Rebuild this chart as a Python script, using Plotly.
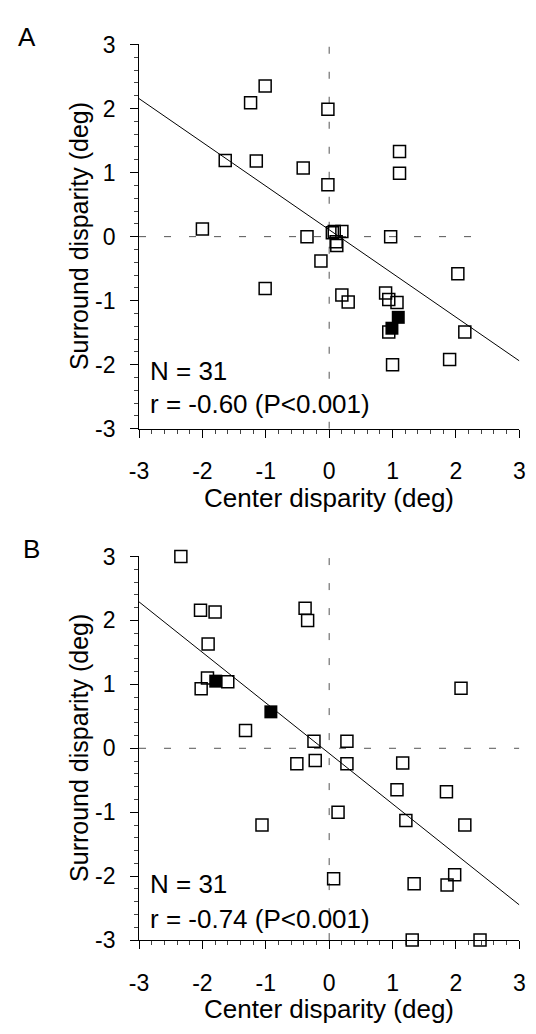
import plotly.graph_objects as go

# ---------------- data ----------------
# Panel A: open squares
a_open_x = [-1.01, -1.24, -0.02, -1.64, -1.15, -0.41, 1.11, 1.11, -0.02, -2.00,
            -0.35, 0.05, 0.08, 0.20, 0.11, 0.12, 0.97, -0.13, 2.03, -1.01,
            0.20, 0.30, 0.89, 0.94, 1.07, 0.94, 2.14, 1.00, 1.90]
a_open_y = [2.35, 2.09, 1.99, 1.19, 1.18, 1.07, 1.33, 0.99, 0.81, 0.12,
            0.00, 0.06, 0.08, 0.08, -0.08, -0.14, 0.00, -0.38, -0.58, -0.81,
            -0.91, -1.02, -0.88, -0.98, -1.03, -1.49, -1.49, -2.00, -1.92]
# Panel A: filled squares
a_fill_x = [1.09, 0.99]
a_fill_y = [-1.26, -1.43]
# Panel A regression line endpoints
a_fit_x = [-3, 3]
a_fit_y = [2.155, -1.94]

# Panel B: open squares
b_open_x = [-2.34, -2.03, -1.80, -0.38, -0.34, -1.91, -1.92, -2.02, -1.60, -1.32,
            -0.24, 0.28, -0.51, -0.22, 0.28, 1.16, 2.08, 1.07, 1.85, 0.14,
            -1.06, 1.21, 2.14, 0.07, 1.34, 1.86, 1.98, 1.31, 2.38]
b_open_y = [3.00, 2.16, 2.13, 2.19, 2.00, 1.63, 1.10, 0.93, 1.04, 0.28,
            0.11, 0.11, -0.24, -0.19, -0.24, -0.23, 0.94, -0.65, -0.68, -1.00,
            -1.20, -1.13, -1.20, -2.04, -2.12, -2.14, -1.98, -3.00, -3.00]
# Panel B: filled squares
b_fill_x = [-1.79, -0.92]
b_fill_y = [1.05, 0.57]
# Panel B regression line endpoints
b_fit_x = [-3, 3]
b_fit_y = [2.29, -2.45]

tick_vals = [-3, -2, -1, 0, 1, 2, 3]
tick_text = ["-3", "-2", "-1", "0", "1", "2", "3"]
stats_A = ["N = 31", "r = -0.60 (P<0.001)"]
stats_B = ["N = 31", "r = -0.74 (P<0.001)"]
x_title = "Center disparity (deg)"
y_title = "Surround disparity (deg)"
panel_labels = ["A", "B"]

# ---------------- figure ----------------
FONT = "Liberation Sans, Arial, Helvetica, sans-serif"
W, H = 536, 1034
fig = go.Figure()

def add_panel(ox, oy, fx, fy, fitx, fity, xa, ya):
    fig.add_trace(go.Scatter(x=fitx, y=fity, mode="lines",
                             line=dict(color="black", width=1),
                             xaxis=xa, yaxis=ya, showlegend=False, hoverinfo="skip",
                             cliponaxis=False))
    fig.add_trace(go.Scatter(x=ox, y=oy, mode="markers",
                             marker=dict(symbol="square-open", size=12, color="black",
                                         line=dict(width=1.5, color="black")),
                             xaxis=xa, yaxis=ya, showlegend=False, cliponaxis=False))
    fig.add_trace(go.Scatter(x=fx, y=fy, mode="markers",
                             marker=dict(symbol="square", size=13, color="black",
                                         line=dict(width=0)),
                             xaxis=xa, yaxis=ya, showlegend=False, cliponaxis=False))

add_panel(a_open_x, a_open_y, a_fill_x, a_fill_y, a_fit_x, a_fit_y, "x", "y")
add_panel(b_open_x, b_open_y, b_fill_x, b_fill_y, b_fit_x, b_fit_y, "x2", "y2")

x_dom = [133 / W, 525 / W]
yA_dom = [1 - 426.5 / H, 1 - 32.3 / H]
yB_dom = [1 - 951 / H, 1 - 557.5 / H]

axis_common = dict(range=[-3, 3], tickvals=tick_vals, ticktext=tick_text,
                   showline=True, linecolor="black", linewidth=1,
                   ticks="outside", ticklen=8, tickwidth=1, tickcolor="black",
                   minor=dict(dtick=0.2, ticks="outside", ticklen=4, tickwidth=1,
                              tickcolor="#444"),
                   showgrid=False, zeroline=False, fixedrange=True,
                   tickfont=dict(family=FONT, size=23, color="black"))

fig.update_layout(
    xaxis=dict(domain=x_dom, anchor="y", ticklabelstandoff=14, **axis_common),
    yaxis=dict(domain=yA_dom, anchor="x", ticklabelstandoff=10, **axis_common),
    xaxis2=dict(domain=x_dom, anchor="y2", ticklabelstandoff=14, **axis_common),
    yaxis2=dict(domain=yB_dom, anchor="x2", ticklabelstandoff=10, **axis_common),
    width=W, height=H, margin=dict(l=0, r=0, t=0, b=0),
    paper_bgcolor="white", plot_bgcolor="white",
    font=dict(family=FONT, color="black"),
)

# dashed zero lines
dash = "7px,18px"
for xr, yr, xend in (("x", "y", 2.5), ("x2", "y2", 3)):
    fig.add_shape(type="line", xref=xr, yref=yr, x0=-3, x1=xend, y0=0, y1=0,
                  line=dict(color="#555", width=1, dash=dash), layer="below")
    fig.add_shape(type="line", xref=xr, yref=yr, x0=0, x1=0, y0=-3, y1=3,
                  line=dict(color="#555", width=1, dash=dash), layer="below")

ann = []
# stats text
for xr, yr, st, ys in (("x", "y", stats_A, (-2.10, -2.61)), ("x2", "y2", stats_B, (-2.13, -2.67))):
    for t, yy in zip(st, ys):
        ann.append(dict(text=t, x=-2.86, y=yy, xref=xr, yref=yr, xanchor="left",
                        yanchor="middle", showarrow=False,
                        font=dict(family=FONT, size=26, color="black")))
# axis titles
for yc_px, xt_px in ((229, 498), (754, 1022)):
    ann.append(dict(text=x_title, x=329 / W, y=1 - xt_px / H, xref="paper", yref="paper",
                    xanchor="center", yanchor="middle", showarrow=False,
                    font=dict(family=FONT, size=26, color="black")))
    ann.append(dict(text=y_title, x=71 / W, y=1 - yc_px / H, xref="paper", yref="paper",
                    xanchor="center", yanchor="middle", textangle=-90, showarrow=False,
                    font=dict(family=FONT, size=25, color="black")))
# panel letters
for lab, xpx, ypx in zip(panel_labels, (18, 22), (25, 550)):
    ann.append(dict(text=lab, x=xpx / W, y=1 - ypx / H, xref="paper", yref="paper",
                    xanchor="center", yanchor="middle", showarrow=False,
                    font=dict(family=FONT, size=26, color="black")))
fig.update_layout(annotations=ann)

fig.write_html("out.html")
